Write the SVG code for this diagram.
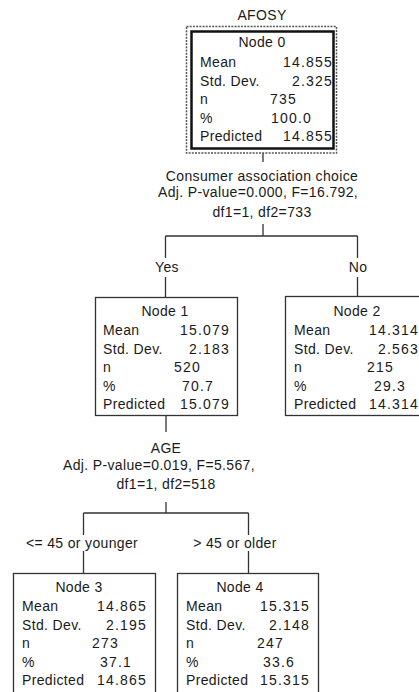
<svg xmlns="http://www.w3.org/2000/svg" width="419" height="692" viewBox="0 0 419 692">
<style>
text{font-family:"Liberation Sans",Arial,sans-serif;font-size:14px;fill:#1a1a1a;letter-spacing:0.35px}
.num{letter-spacing:1.2px}
.r{text-anchor:end}
.c{text-anchor:middle}
.box{fill:#fff;stroke:#333;stroke-width:1.3}
.ln{stroke:#333;stroke-width:1.3;fill:none}
</style>
<rect width="419" height="692" fill="#fff"/>
<g id="connectors">
<path class="ln" d="M263 153V162M263 224V236M165.5 236H357.5M165.5 236V258M165.5 277V297M357.5 236V258M357.5 277V296"/>
<path class="ln" d="M166 416V432M166 502V513M83.5 513H248.5M83.5 513V535M83.5 551V573M248.5 513V535M248.5 551V573"/>
</g>
<g id="split0">
<text class="c" x="262" y="181">Consumer association choice</text>
<text class="c" x="258" y="197">Adj. P-value=0.000, F=16.792,</text>
<text class="c" x="262" y="217">df1=1, df2=733</text>
</g>
<g id="split1">
<text class="c" x="166" y="453">AGE</text>
<text class="c" x="159" y="470">Adj. P-value=0.019, F=5.567,</text>
<text class="c" x="166" y="489">df1=1, df2=518</text>
</g>
<g id="edge-labels">
<text class="c" x="167" y="272">Yes</text>
<text class="c" x="358" y="272">No</text>
<text class="c" x="82" y="548">&lt;= 45 or younger</text>
<text class="c" x="235" y="548">&gt; 45 or older</text>
</g>
<g id="node0">
<text class="c" x="262" y="20">AFOSY</text>
<rect x="186.5" y="26.5" width="150" height="126.5" fill="#fff" stroke="#555" stroke-width="1.5" stroke-dasharray="2,1.2"/>
<rect x="191.5" y="31.5" width="142" height="117" fill="none" stroke="#111" stroke-width="2.5"/>
<text class="c" x="262" y="47">Node 0</text>
<text x="200" y="67">Mean</text><text class="num r" x="333" y="67">14.855</text>
<text x="200" y="85.5">Std. Dev.</text><text class="num r" x="333" y="85.5">2.325</text>
<text x="200" y="104">n</text><text class="num" x="270" y="104">735</text>
<text x="200" y="122.5">%</text><text class="num" x="271" y="122.5">100.0</text>
<text x="200" y="141">Predicted</text><text class="num r" x="333" y="141">14.855</text>
</g>
<g id="node1">
<rect class="box" x="95.5" y="297.5" width="142" height="118"/>
<text class="c" x="165" y="316">Node 1</text>
<text x="103" y="335">Mean</text><text class="num r" x="230" y="335">15.079</text>
<text x="103" y="353.5">Std. Dev.</text><text class="num r" x="230" y="353.5">2.183</text>
<text x="103" y="372">n</text><text class="num" x="174" y="372">520</text>
<text x="103" y="390.5">%</text><text class="num" x="182" y="390.5">70.7</text>
<text x="103" y="409">Predicted</text><text class="num r" x="230" y="409">15.079</text>
</g>
<g id="node2">
<rect class="box" x="285.5" y="296.5" width="143" height="119"/>
<text class="c" x="357" y="316">Node 2</text>
<text x="294" y="335">Mean</text><text class="num r" x="419" y="335">14.314</text>
<text x="294" y="353.5">Std. Dev.</text><text class="num r" x="419" y="353.5">2.563</text>
<text x="294" y="372">n</text><text class="num" x="367" y="372">215</text>
<text x="294" y="390.5">%</text><text class="num" x="374" y="390.5">29.3</text>
<text x="294" y="409">Predicted</text><text class="num r" x="419" y="409">14.314</text>
</g>
<g id="node3">
<rect class="box" x="13.5" y="573.5" width="142" height="130"/>
<text class="c" x="79" y="592">Node 3</text>
<text x="22" y="611">Mean</text><text class="num r" x="147" y="611">14.865</text>
<text x="22" y="629.5">Std. Dev.</text><text class="num r" x="147" y="629.5">2.195</text>
<text x="22" y="648">n</text><text class="num" x="92" y="648">273</text>
<text x="22" y="666.5">%</text><text class="num" x="100" y="666.5">37.1</text>
<text x="22" y="685">Predicted</text><text class="num r" x="147" y="685">14.865</text>
</g>
<g id="node4">
<rect class="box" x="177.5" y="573.5" width="141" height="130"/>
<text class="c" x="240" y="592">Node 4</text>
<text x="186" y="611">Mean</text><text class="num r" x="310" y="611">15.315</text>
<text x="186" y="629.5">Std. Dev.</text><text class="num r" x="310" y="629.5">2.148</text>
<text x="186" y="648">n</text><text class="num" x="257" y="648">247</text>
<text x="186" y="666.5">%</text><text class="num" x="263" y="666.5">33.6</text>
<text x="186" y="685">Predicted</text><text class="num r" x="310" y="685">15.315</text>
</g>
</svg>
